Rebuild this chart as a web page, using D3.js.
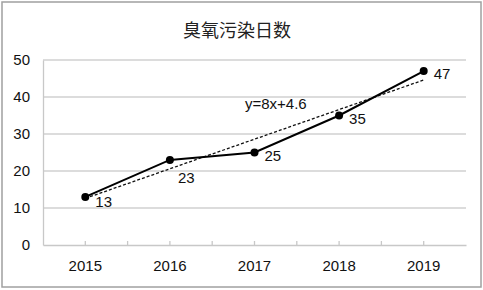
<!DOCTYPE html>
<html><head><meta charset="utf-8">
<script src="https://cdn.jsdelivr.net/npm/d3@7"></script>
<style>html,body{margin:0;padding:0;background:#fff;}</style>
</head><body>
<svg id="c" width="483" height="290"></svg>
<script>
const title = "臭氧污染日数";
const years = ["2015","2016","2017","2018","2019"];
const days = [13, 23, 25, 35, 47];
const yTicks = [0, 10, 20, 30, 40, 50];
const trendSlope = 8, trendIntercept = 4.6;
const trendLabel = "y=8x+4.6";
const labelPlacement = ["right","below","right","right","right"];

const svg = d3.select("#c");
const W = 483, H = 290;
const m = {l: 43, r: 466, t: 60, b: 245};
const font = "'Liberation Sans', Arial, sans-serif";

svg.append("rect").attr("x",0).attr("y",0).attr("width",W).attr("height",H).attr("fill","#fff");
svg.append("rect").attr("x",2).attr("y",2).attr("width",479).attr("height",285)
  .attr("fill","none").attr("stroke","#a0a0a0").attr("stroke-width",1.5);

svg.append("text").attr("x",237).attr("y",37).attr("text-anchor","middle")
  .attr("font-family","'Noto Sans CJK SC', sans-serif").attr("font-size",18).attr("fill","#222")
  .text(title);

const x = d3.scaleBand().domain(years).range([m.l, m.r]).padding(0);
const y = d3.scaleLinear().domain([0,50]).range([m.b, m.t]);
const cx = d => x(d) + x.bandwidth()/2;

// gridlines
svg.append("g").selectAll("line").data(yTicks.filter(v=>v>0)).join("line")
  .attr("x1",m.l).attr("x2",m.r).attr("y1",d=>y(d)).attr("y2",d=>y(d))
  .attr("stroke","#d0d0d0").attr("stroke-width",1.3);

// y axis
const ya = svg.append("g").attr("transform",`translate(${m.l},0)`)
  .call(d3.axisLeft(y).tickValues(yTicks).tickSize(0).tickPadding(13));
ya.select(".domain").attr("stroke","#c8c8c8").attr("stroke-width",1.3);
ya.selectAll("text").attr("font-family",font).attr("font-size",15).attr("fill","#111");

// x axis
const xa = svg.append("g").attr("transform",`translate(0,${m.b})`)
  .call(d3.axisBottom(x).tickSize(0).tickPadding(15));
xa.select(".domain").attr("stroke","#c8c8c8").attr("stroke-width",1.3);
xa.selectAll("text").attr("font-family",font).attr("font-size",15).attr("fill","#111");
// tick marks every half band (inside)
const half = [];
years.forEach((d,i)=>{ half.push(cx(d)); if(i>0) half.push(x(d)); });
svg.append("g").selectAll("line").data(half).join("line")
  .attr("x1",d=>d).attr("x2",d=>d).attr("y1",m.b).attr("y2",m.b-4)
  .attr("stroke","#c8c8c8").attr("stroke-width",1.3);

// trendline
const tx = [1, years.length];
svg.append("line")
  .attr("x1",cx(years[0])).attr("y1",y(trendSlope*tx[0]+trendIntercept))
  .attr("x2",cx(years[years.length-1])).attr("y2",y(trendSlope*tx[1]+trendIntercept))
  .attr("stroke","#111").attr("stroke-width",1.3).attr("stroke-dasharray","3,2");

// line
const pts = years.map((d,i)=>[cx(d), y(days[i])]);
svg.append("path").attr("d",d3.line()(pts)).attr("fill","none")
  .attr("stroke","#000").attr("stroke-width",2);
svg.append("g").selectAll("circle").data(pts).join("circle")
  .attr("cx",d=>d[0]).attr("cy",d=>d[1]).attr("r",4).attr("fill","#000");

// data labels
svg.append("g").selectAll("text").data(days).join("text")
  .attr("x",(d,i)=> pts[i][0] + (labelPlacement[i]==="below" ? 8 : 10))
  .attr("y",(d,i)=> pts[i][1] + (labelPlacement[i]==="below" ? 23 : 8) + (i===0?2:0))
  .attr("font-family",font).attr("font-size",15).attr("fill","#111")
  .text(d=>d);

svg.append("text").attr("x",245).attr("y",109)
  .attr("font-family",font).attr("font-size",15).attr("fill","#111").text(trendLabel);
</script>
</body></html>
